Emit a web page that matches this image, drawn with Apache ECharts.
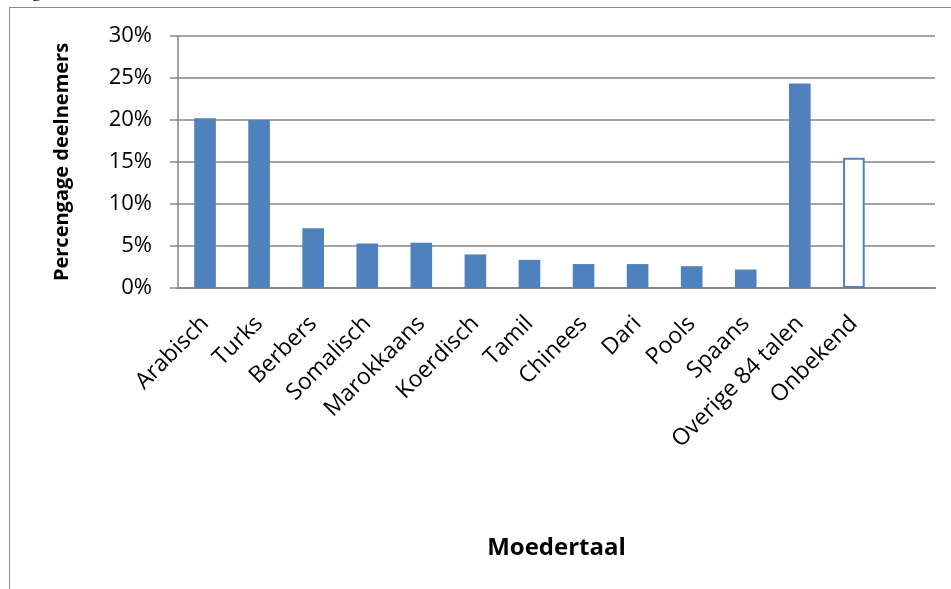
<!DOCTYPE html>
<html>
<head>
<meta charset="utf-8">
<script src="https://cdn.jsdelivr.net/npm/echarts@6/dist/echarts.min.js"></script>
<style>
  html, body { margin: 0; padding: 0; background: #fff; }
  #chart { width: 951px; height: 589px; }
</style>
</head>
<body>
<div id="chart"></div>
<script>
// moedertaal van deelnemers
var talen = ['Arabisch', 'Turks', 'Berbers', 'Somalisch', 'Marokkaans', 'Koerdisch',
  'Tamil', 'Chinees', 'Dari', 'Pools', 'Spaans', 'Overige 84 talen', 'Onbekend', '']
var percentages = [20.2, 20.0, 7.1, 5.3, 5.4, 4.0, 3.35, 2.85, 2.85, 2.6, 2.2, 24.35, 15.5, null]
var yTicks = [0, 5, 10, 15, 20, 25, 30]

var blauw = '#4f81bd'
var grijs = '#868686'

var chart = echarts.init(document.getElementById('chart'))

var barData = percentages.map(function (v, i) {
  if (talen[i] === 'Onbekend') {
    // onbekend als lege balk
    return { value: v, itemStyle: { color: '#fff', borderColor: blauw, borderWidth: 2 } }
  }
  return v
})

var option = {
  animation: false,
  textStyle: { fontFamily: 'Open Sans', color: '#000' },
  grid: { left: 178, right: 16, top: 36, bottom: 301 },
  graphic: [
    { type: 'line', shape: { x1: 9.5, y1: 7, x2: 9.5, y2: 589 }, style: { stroke: '#8c8c8c', lineWidth: 1 } },
    { type: 'line', shape: { x1: 9, y1: 7.5, x2: 951, y2: 7.5 }, style: { stroke: '#8c8c8c', lineWidth: 1 } },
    {
      type: 'text', left: 16, top: -17,
      style: { text: 'Figuur 13: Moedertaal van deelnemers', font: '19px "Liberation Serif"', fill: '#000' }
    }
  ],
  xAxis: {
    type: 'category',
    data: talen,
    name: 'Moedertaal',
    nameLocation: 'middle',
    nameGap: 248,
    nameTextStyle: { fontSize: 24, fontWeight: 'bold', fontFamily: 'Open Sans' },
    axisLine: { lineStyle: { color: grijs, width: 2 } },
    axisTick: { show: false },
    axisLabel: { rotate: 45, interval: 0, fontSize: 23, color: '#000', margin: 32 }
  },
  yAxis: {
    type: 'value',
    min: yTicks[0],
    max: yTicks[yTicks.length - 1],
    interval: 5,
    name: 'Percengage deelnemers',
    nameLocation: 'middle',
    nameRotate: 90,
    nameGap: 106,
    nameTextStyle: { fontSize: 20, fontWeight: 'bold', fontFamily: 'Open Sans' },
    axisLine: { show: true, lineStyle: { color: grijs, width: 1.5 } },
    axisTick: { show: true, length: 8, lineStyle: { color: grijs, width: 1.5 } },
    axisLabel: { formatter: '{value}%', fontSize: 22, color: '#000', margin: 26 },
    splitLine: { lineStyle: { color: grijs, width: 1.5 } }
  },
  series: [
    {
      type: 'bar',
      data: barData,
      barWidth: '40%',
      itemStyle: { color: blauw }
    }
  ]
}

chart.setOption(option)
</script>
</body>
</html>
